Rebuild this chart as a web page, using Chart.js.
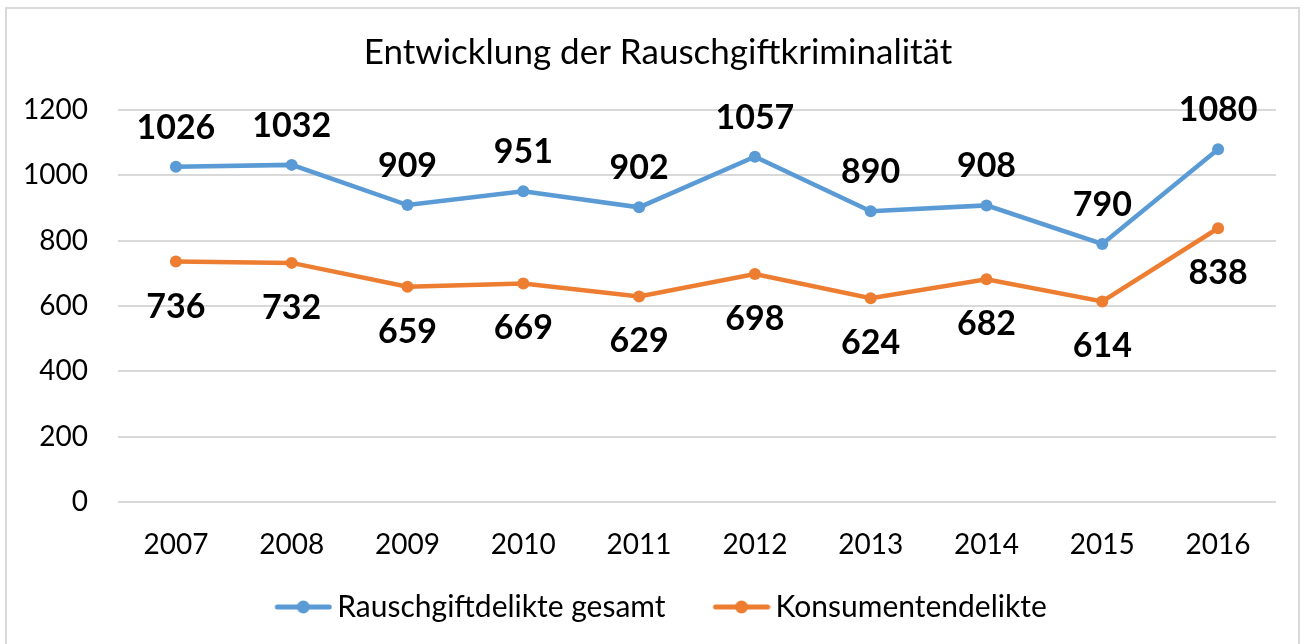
<!DOCTYPE html>
<html>
<head>
<meta charset="utf-8">
<script src="https://cdn.jsdelivr.net/npm/chart.js@4/dist/chart.umd.min.js"></script>
<style>
html,body{margin:0;padding:0;background:#fff;overflow:hidden;}
#wrap{position:absolute;left:0;top:0;width:1306px;height:644px;}
#frame{position:absolute;left:5px;top:7px;width:1295px;height:660px;border:2px solid #d9d9d9;pointer-events:none;box-sizing:border-box;}
canvas{position:absolute;left:0;top:0;}
</style>
</head>
<body>
<div id="wrap">
<canvas id="c" width="1306" height="644"></canvas>
<div id="frame"></div>
</div>
<script>
const titleText = "Entwicklung der Rauschgiftkriminalität";
const categories = ["2007","2008","2009","2010","2011","2012","2013","2014","2015","2016"];
const seriesNames = ["Rauschgiftdelikte gesamt","Konsumentendelikte"];
const gesamt = [1026,1032,909,951,902,1057,890,908,790,1080];
const konsumenten = [736,732,659,669,629,698,624,682,614,838];
const yTicks = [0,200,400,600,800,1000,1200];

const BLUE = "#5B9BD5", ORANGE = "#ED7D31";
const FONT = "Lato, 'Open Sans', sans-serif";

function legendImage(color){
  const c = document.createElement("canvas");
  c.width = 105; c.height = 16;
  const g = c.getContext("2d");
  g.strokeStyle = color; g.lineWidth = 5; g.lineCap = "round";
  g.beginPath(); g.moveTo(50, 8); g.lineTo(102, 8); g.stroke();
  g.fillStyle = color; g.beginPath(); g.arc(76, 8, 6.5, 0, Math.PI*2); g.fill();
  return c;
}
const legendImgs = [legendImage(BLUE), legendImage(ORANGE)];

const labelPlugin = {
  id: "valueLabels",
  afterLayout(chart){
    if (chart.titleBlock) { chart.titleBlock.left += 20; chart.titleBlock.right += 20; }
    if (chart.legend) { chart.legend.left += 4; chart.legend.right += 4; }
  },
  afterDatasetsDraw(chart){
    const ctx = chart.ctx;
    ctx.save();
    ctx.font = "bold 34px " + FONT;
    ctx.fillStyle = "#000";
    ctx.textAlign = "center";
    ctx.textBaseline = "middle";
    chart.data.datasets.forEach((ds, di) => {
      const meta = chart.getDatasetMeta(di);
      meta.data.forEach((pt, i) => {
        const off = di === 0 ? -39 : 45;
        ctx.fillText(String(ds.data[i]), pt.x, pt.y + off);
      });
    });
    ctx.restore();
  }
};

new Chart(document.getElementById("c"), {
  type: "line",
  data: {
    labels: categories,
    datasets: [
      {label: seriesNames[0], data: gesamt, borderColor: BLUE, backgroundColor: BLUE, borderWidth: 4.5, pointRadius: 6, pointBackgroundColor: BLUE, pointBorderWidth: 0, tension: 0},
      {label: seriesNames[1], data: konsumenten, borderColor: ORANGE, backgroundColor: ORANGE, borderWidth: 4.5, pointRadius: 6, pointBackgroundColor: ORANGE, pointBorderWidth: 0, tension: 0}
    ]
  },
  options: {
    responsive: false,
    animation: false,
    layout: {padding: {top: 11, left: 0, right: 30, bottom: 12}},
    plugins: {
      title: {display: true, text: titleText, color: "#000", font: {family: FONT, size: 35, weight: "normal"}, padding: {top: 21, bottom: 36}},
      legend: {
        position: "bottom",
        labels: {
          usePointStyle: true,
          pointStyleWidth: 85,
          padding: 10,
          color: "#000",
          font: {family: FONT, size: 30},
          generateLabels(chart){
            const items = Chart.defaults.plugins.legend.labels.generateLabels(chart);
            items.forEach((it, i) => { it.pointStyle = legendImgs[i]; });
            return items;
          }
        }
      },
      tooltip: {enabled: false}
    },
    scales: {
      x: {
        offset: true,
        grid: {display: false, drawTicks: false},
        border: {display: false},
        ticks: {color: "#000", font: {family: FONT, size: 28}, padding: 26},
        afterFit(s){ s.height = 80; }
      },
      y: {
        min: 0, max: 1200,
        afterBuildTicks(s){ s.ticks = yTicks.map(v => ({value: v})); },
        grid: {color: "#d9d9d9", lineWidth: 2, drawTicks: false},
        border: {display: false},
        ticks: {color: "#000", font: {family: FONT, size: 28}, padding: 30, callback: v => String(v)},
        afterFit(s){ s.width = 118; }
      }
    }
  },
  plugins: [labelPlugin]
});
</script>
</body>
</html>
